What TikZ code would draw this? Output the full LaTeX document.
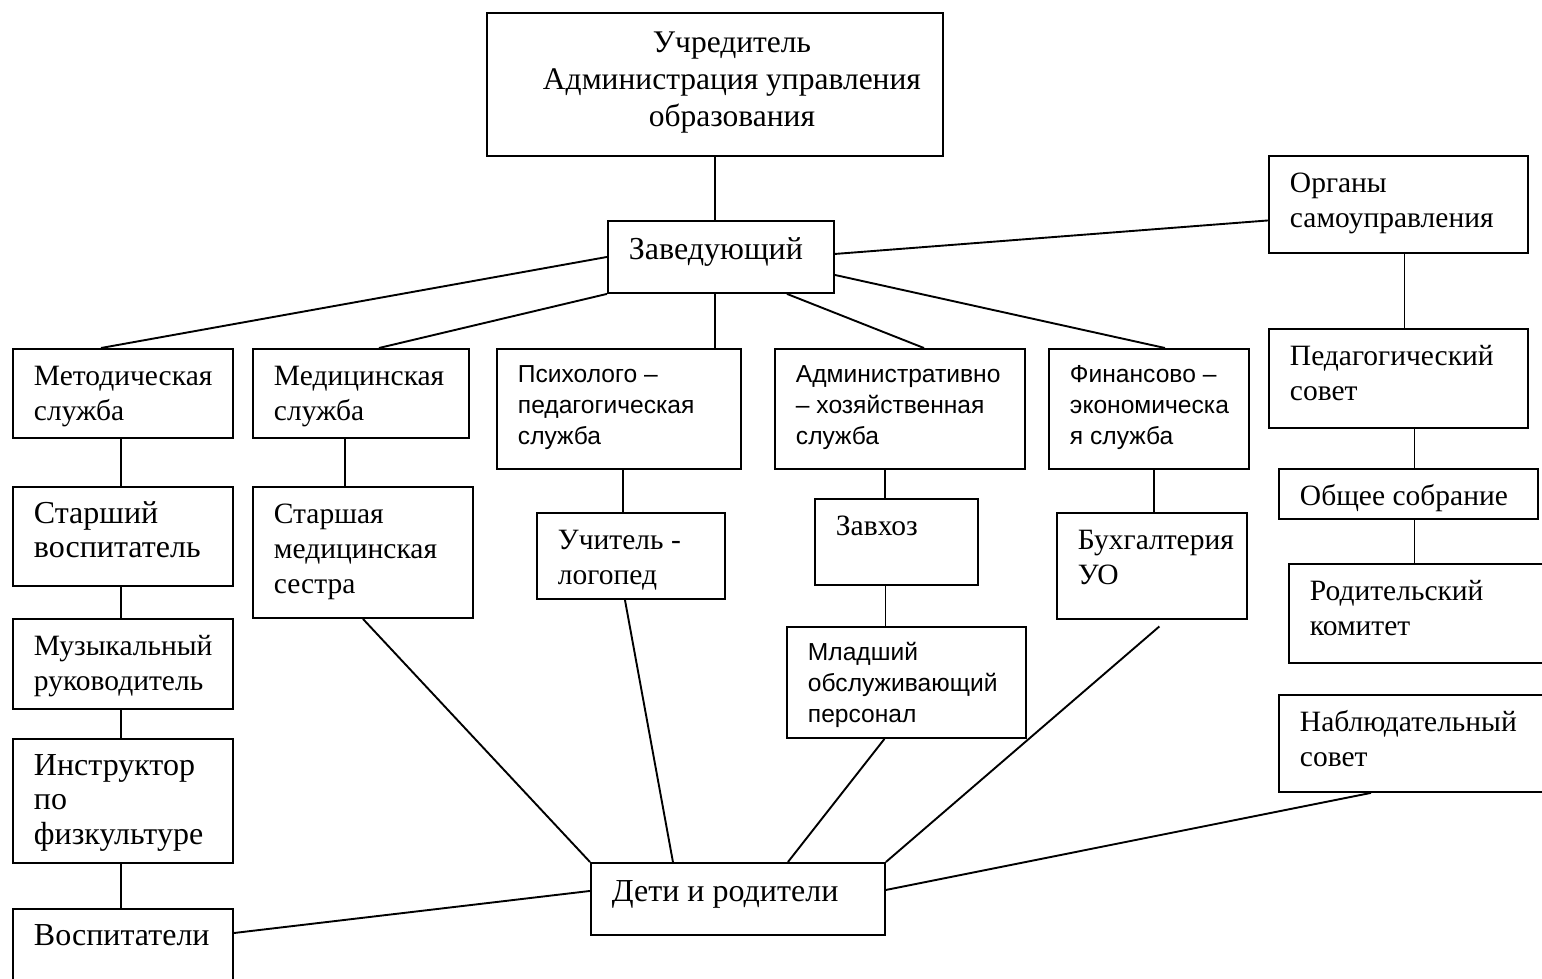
\documentclass[tikz,border=0pt]{standalone}
\usepackage{fontspec}
\setmainfont{Liberation Serif}
\setsansfont{Liberation Sans}
\usepackage{tikz}
\newcommand{\cell}[4][12]{\parbox[c][#3pt][t]{\dimexpr #2pt-42pt\relax}{\raggedright\vspace*{#1pt}\strut #4}}
\hbadness=10000
\hfuzz=60pt

\begin{document}
\begin{tikzpicture}[x=1pt,y=-1pt,line width=1.9pt]
  \tikzstyle{every node}=[draw,rectangle,anchor=north west,inner xsep=21pt,inner ysep=0pt,
                          font=\fontsize{29.5}{35}\selectfont]
  \tikzstyle{sanstext}=[font=\sffamily\fontsize{24.6}{31}\selectfont]
  \tikzstyle{largetext}=[font=\fontsize{32}{34.5}\selectfont]
  \tikzstyle{bigtext}=[font=\fontsize{32}{38}\selectfont]
  \clip (0,0) rectangle (1542,978);

  \node (uchr) [font=\fontsize{31.5}{37}\selectfont] at (486,12)
    {\cell[14]{456}{143}{\centering\leftskip=34pt plus 1fil Учредитель\\\mbox{Администрация управления}\\образования}};
  \node (zav) [bigtext] at (607,220) {\cell{226}{72}{Заведующий}};
  \node (organy) at (1268,155) {\cell{259}{97}{Органы\\самоуправления}};

  \node (metod) at (12,348) {\cell{220}{89}{Методическая\\служба}};
  \node (med) at (252,348) {\cell{216}{89}{Медицинская\\служба}};
  \node (psych) [sanstext] at (496,348) {\cell{244}{120}{Психолого –\\педагогическая\\служба}};
  \node (adm) [sanstext] at (774,348) {\cell{250}{120}{Административно\\– хозяйственная\\служба}};
  \node (fin) [sanstext] at (1048,348) {\cell{200}{120}{Финансово –\\экономическа\\я служба}};
  \node (pedsov) at (1268,328) {\cell{259}{99}{Педагогический\\совет}};
  \node (sobr) at (1278,468) {\cell{259}{50}{Общее собрание}};
  \node (rodkom) at (1288,563) {\cell{272}{99}{Родительский\\комитет}};
  \node (nabl) at (1278,694) {\cell{282}{97}{Наблюдательный\\совет}};

  \node (starsh) [largetext] at (12,486) {\cell{220}{99}{Старший\\воспитатель}};
  \node (muz) at (12,618) {\cell{220}{90}{Музыкальный\\руководитель}};
  \node (instr) [largetext] at (12,738) {\cell{220}{124}{Инструктор\\по\\физкультуре}};
  \node (vosp) [largetext] at (12,908) {\cell{220}{92}{Воспитатели}};
  \node (sestra) at (252,486) {\cell{220}{131}{Старшая\\медицинская\\сестра}};
  \node (logo) at (536,512) {\cell{188}{86}{Учитель -\\логопед}};
  \node (zavhoz) at (814,498) {\cell{163}{86}{Завхоз}};
  \node (mlad) [sanstext] at (786,626) {\cell{239}{111}{Младший\\обслуживающий\\персонал}};
  \node (buh) at (1056,512) {\cell{190}{106}{Бухгалтерия\\УО}};
  \node (deti) [bigtext] at (590,862) {\cell{294}{72}{Дети и родители}};

  \draw (uchr.south) -- (uchr.south |- zav.north);
  \draw (zav.west) -- ([xshift=-22pt]metod.north);
  \draw (zav.south west) -- ([xshift=18pt]med.north);
  \draw ([xshift=-6pt]zav.south) -- ([xshift=-6pt]zav.south |- psych.north);
  \draw ([xshift=66pt]zav.south) -- ([xshift=24pt]adm.north);
  \draw ([yshift=-18pt]zav.east) -- ([xshift=16pt]fin.north);
  \draw ([yshift=3pt]zav.east) -- ([yshift=-16pt]organy.west);
  \draw ([xshift=6pt]organy.south) -- ([xshift=6pt]organy.south |- pedsov.north);
  \draw ([xshift=16pt]pedsov.south) -- ([xshift=16pt]pedsov.south |- sobr.north);
  \draw ([xshift=6pt]sobr.south) -- ([xshift=6pt]sobr.south |- rodkom.north);

  \draw ([xshift=-2pt]metod.south) -- ([xshift=-2pt]starsh.north);
  \draw ([xshift=-2pt]starsh.south) -- ([xshift=-2pt]muz.north);
  \draw ([xshift=-2pt]muz.south) -- ([xshift=-2pt]instr.north);
  \draw ([xshift=-2pt]instr.south) -- ([xshift=-2pt]vosp.north);
  \draw ([xshift=-16pt]med.south) -- ([xshift=-16pt]med.south |- sestra.north);
  \draw ([xshift=4pt]psych.south) -- ([xshift=4pt]psych.south |- logo.north);
  \draw ([xshift=-15pt]adm.south) -- ([xshift=-15pt]adm.south |- zavhoz.north);
  \draw ([xshift=-11pt]zavhoz.south) -- ([xshift=-11pt]zavhoz.south |- mlad.north);
  \draw ([xshift=5pt]fin.south) -- ([xshift=5pt]fin.south |- buh.north);

  \draw (sestra.south) -- (deti.north west);
  \draw ([xshift=-6pt]logo.south) -- ([xshift=-65pt]deti.north);
  \draw ([xshift=-22pt]mlad.south) -- ([xshift=50pt]deti.north);
  \draw[shorten <=10pt] ([xshift=15pt]buh.south) -- (deti.north east);
  \draw ([xshift=-49pt]nabl.south) -- ([yshift=9pt]deti.east);
  \draw ([yshift=-25pt]vosp.north east) -- ([yshift=8pt]deti.west);
\end{tikzpicture}
\end{document}
